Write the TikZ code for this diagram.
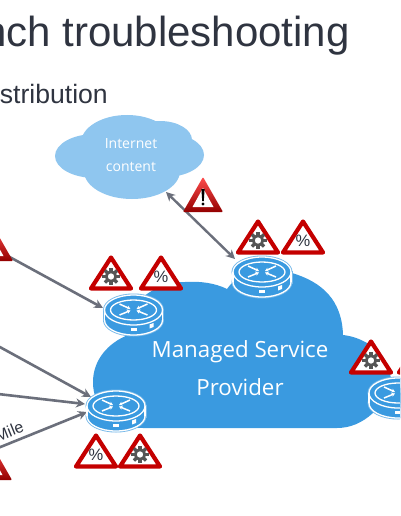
\documentclass[tikz,border=0pt]{standalone}
\usepackage{fontspec}
\setmainfont{Liberation Sans}
\newfontfamily\cloudfont{Open Sans}
\usetikzlibrary{arrows.meta}
\definecolor{titlecol}{HTML}{2F3440}
\definecolor{cloudlight}{HTML}{8FC6EF}
\definecolor{clouddark}{HTML}{3A9AE0}
\definecolor{linkcol}{HTML}{6B6F7B}
\definecolor{warnred}{HTML}{C40000}
\definecolor{geargray}{HTML}{555555}
\tikzset{
  link/.style={draw=linkcol,line width=2.6pt,-{Stealth[length=9pt,width=9pt]}},
  duallink/.style={draw=linkcol,line width=2.4pt,{Stealth[length=9pt,width=9pt]}-{Stealth[length=9pt,width=9pt]}},
  warnframe/.style={draw=warnred,fill=white,line width=4.2pt,line join=round},
  rline/.style={draw=white,line width=1.3pt},
  rarrow/.style={draw=white,line width=1.5pt,-{Stealth[length=3.5pt,width=4pt]}},
}
\newcommand{\routerdraw}[3]{%
  \coordinate (#1) at (#2,#3);
  \begin{scope}[shift={(#2,#3)}]
    \fill[clouddark,draw=clouddark!70!white,line width=3pt] (0,5) ellipse [x radius=29,y radius=15];
    \fill[clouddark,draw=clouddark!70!white,line width=3pt] (-29,-5) rectangle (29,5);
    \fill[clouddark,draw=clouddark!70!white,line width=3pt] (0,-5) ellipse [x radius=29,y radius=15];
    \path[fill=clouddark,rline] (0,5) ellipse [x radius=29,y radius=15];
    \fill[clouddark] (-29,-5) rectangle (29,5);
    \draw[rline] (-29,-5) -- (-29,5) (29,-5) -- (29,5);
    \path[fill=clouddark,rline] (0,-5) ellipse [x radius=29,y radius=15];
    \draw[rline] (0,-5) ellipse [x radius=23,y radius=10];
    \draw[rarrow] (-14,-11) -- (-3,-6);
    \draw[rarrow] (-14,0) -- (-3,-4.5);
    \draw[rarrow] (14,-11) -- (3,-6);
    \draw[rarrow] (14,0) -- (3,-4.5);
    \fill[white] (-3,12.5) rectangle (3,15.5);
    \fill[white] (16,9.5) -- (20,8) -- (20,12) -- (16,13.5) -- cycle;
  \end{scope}}
\newcommand{\warnframe}[3]{%
  \draw[warnframe] (#2,#3+3.5) -- (#2+20,#3+34.5) -- (#2-20,#3+34.5) -- cycle;
  \coordinate (#1) at (#2,#3+22);}
\newcommand{\gearwarn}[3]{%
  \warnframe{#1}{#2}{#3}
  \begin{scope}[shift={(#2,#3+22.5)}]
    \draw[geargray,line width=2.8pt] (0,0) circle (4.8);
    \foreach \a in {0,45,...,315}
      \fill[geargray,rotate=\a] (-1.6,-8.6) rectangle (1.6,-5);
  \end{scope}}
\newcommand{\pctwarn}[3]{%
  \warnframe{#1}{#2}{#3}
  \node[text=titlecol,font=\fontsize{16.5}{16}\selectfont,inner sep=0pt] (#1t) at (#2,#3+23) {\%};}
\newcommand{\alerttri}[3]{%
  \shade[top color=red!70!white,bottom color=warnred!75!black,rounded corners=1pt]
     (#2,#3) -- (#2+20,#3+35) -- (#2-20,#3+35) -- cycle;
  \fill[white] (#2,#3+11) -- (#2+10.5,#3+30) -- (#2-10.5,#3+30) -- cycle;
  \fill[black] (#2-1.6,#3+12) -- (#2+1.6,#3+12) -- (#2+0.8,#3+24) -- (#2-0.8,#3+24) -- cycle;
  \fill[black] (#2,#3+27) circle (1.7);
  \coordinate (#1) at (#2,#3+22);}
\begin{document}
\begin{tikzpicture}[x=1pt,y=-1pt]
\useasboundingbox (0,0) rectangle (400,516);
\clip (0,0) rectangle (400,516);
\fill[white] (0,0) rectangle (400,516);

\node[anchor=base east,inner sep=0pt,text=titlecol,font=\fontsize{42}{42}\selectfont] (title) at (350,47) {nch troubleshooting};
\node[anchor=base east,inner sep=0pt,text=titlecol,font=\fontsize{26.6}{27}\selectfont] (subtitle) at (108,104) {stribution};

% Internet cloud
\fill[cloudlight] (95,156) ellipse [x radius=40,y radius=22];
\fill[cloudlight] (127,143) ellipse [x radius=46,y radius=28];
\fill[cloudlight] (160,140) ellipse [x radius=32,y radius=19];
\fill[cloudlight] (165,155) ellipse [x radius=39,y radius=22];
\fill[cloudlight] (132,171) ellipse [x radius=48,y radius=28];
\node[text=white,font=\cloudfont\fontsize{14}{14}\selectfont,inner sep=0pt] (inet1) at (131,144) {Internet};
\node[text=white,font=\cloudfont\fontsize{14}{14}\selectfont,inner sep=0pt] (inet2) at (131,167) {content};

% Managed service cloud
\fill[clouddark] (143,428)
  .. controls (112,428) and (93,408) .. (93,382)
  .. controls (93,360) and (108,343) .. (128,335)
  .. controls (128,315) and (130,305) .. (143,297)
  .. controls (155,287) and (170,282) .. (185,282)
  .. controls (200,281) and (215,283) .. (227,289)
  .. controls (240,270) and (270,265) .. (292,273)
  .. controls (322,282) and (342,300) .. (343,335)
  .. controls (352,336) and (360,339) .. (367,343)
  .. controls (395,358) and (400,395) .. (373,413)
  .. controls (362,423) and (350,428) .. (337,428)
  -- cycle;
\node[text=white,font=\cloudfont\fontsize{22.3}{22}\selectfont,inner sep=0pt] (msp1) at (240,352) {Managed Service};
\node[text=white,font=\cloudfont\fontsize{22.3}{22}\selectfont,inner sep=0pt] (msp2) at (240,387) {Provider};

% link end points
\coordinate (cloudport) at (166,192);
\coordinate (rCport) at (235,259);
\coordinate (rAport) at (103,308);
\coordinate (rBa) at (91,397);
\coordinate (rBb) at (85,404);
\coordinate (rBc) at (87,412);
\coordinate (fa) at (6,255);
\coordinate (fb) at (-2,346);
\coordinate (fc) at (-2,394);
\coordinate (fd) at (-2,448);

\draw[duallink] (cloudport) -- (rCport);
\draw[link] (fa) -- (rAport);
\draw[link] (fb) -- (rBa);
\draw[link] (fc) -- (rBb);
\draw[link] (fd) -- (rBc);
\node[anchor=base east,inner sep=0pt,rotate=22,text=titlecol,font=\fontsize{16}{16}\selectfont] (lastmile) at (25,431) {Mile};

\routerdraw{rA}{133.5}{315}
\routerdraw{rB}{116}{411}
\routerdraw{rC}{262}{277}
\routerdraw{rD}{398}{398}

\alerttri{al1}{203}{177}
\alerttri{al2}{-7}{226}
\alerttri{al3}{-8}{445}
\gearwarn{w1}{258}{218}
\pctwarn{w2}{303}{218}
\gearwarn{w3}{111}{254}
\pctwarn{w4}{161}{254}
\pctwarn{w5}{96}{432}
\gearwarn{w6}{140}{432}
\gearwarn{w7}{371}{338}
\pctwarn{w8}{419}{338}
\end{tikzpicture}
\end{document}
